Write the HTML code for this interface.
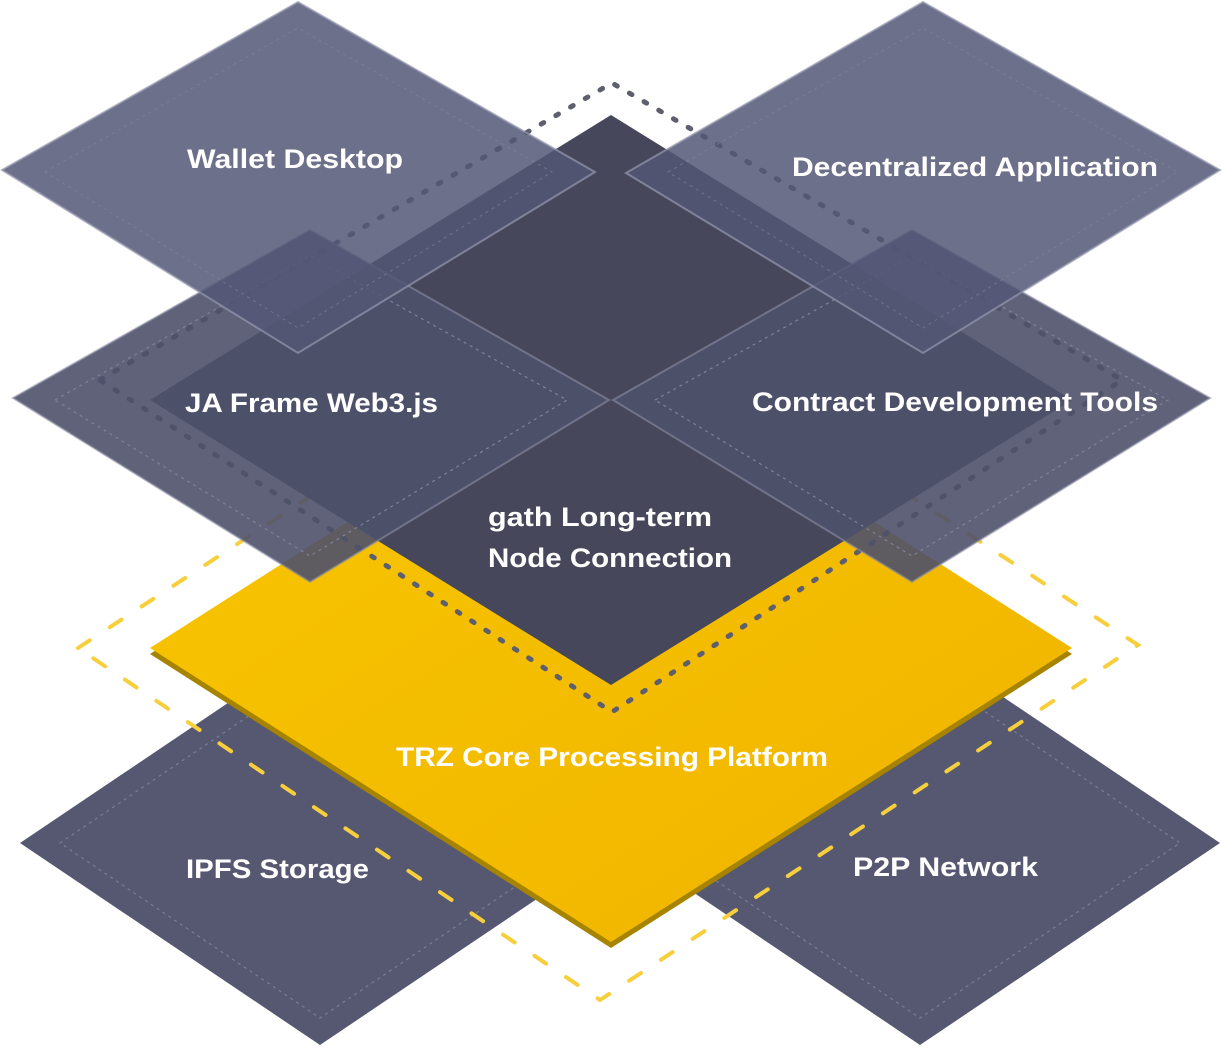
<!DOCTYPE html>
<html><head><meta charset="utf-8"><style>
html,body{margin:0;padding:0;background:#fff;}
svg{display:block;}
text{font-family:"Liberation Sans",sans-serif;font-weight:bold;fill:#fff;font-size:27px;}
</style></head><body>
<svg width="1222" height="1048" viewBox="0 0 1222 1048" xmlns="http://www.w3.org/2000/svg">
<defs>
<linearGradient id="yg" x1="0" y1="0" x2="1" y2="1">
<stop offset="0" stop-color="#f8c700"/><stop offset="1" stop-color="#f0b300"/>
</linearGradient>
</defs>
<polygon points="20,843 320,641 620,843 320,1045" fill="#555870"/>
<polygon points="60,843 320,668 580,843 320,1018" fill="none" stroke="#7a7d95" stroke-width="1.2" stroke-dasharray="3,4"/>
<polygon points="620,843 920,641 1220,843 920,1045" fill="#555870"/>
<polygon points="660,843 920,668 1180,843 920,1018" fill="none" stroke="#7a7d95" stroke-width="1.2" stroke-dasharray="3,4"/>
<polygon points="78,648 611,300 1138,645 600,1000" fill="none" stroke="#f7cf3c" stroke-width="4" stroke-dasharray="14,24" stroke-linecap="round"/>
<polygon points="150,654 611,360 1072,654 611,948" fill="#a68300"/>
<polygon points="150,648 611,354 1072,648 611,942" fill="url(#yg)"/>
<polygon points="150,400 611,115 1072,400 611,685" fill="#46475a"/>
<polygon points="100,380 612,83 1122,380 612,712" fill="none" stroke="#5d5e6e" stroke-width="5" stroke-dasharray="3,14" stroke-linecap="round"/>
<polygon points="13,398 310,230 609,400 310,582" fill="rgba(78,81,106,0.9)" stroke="rgba(140,142,165,0.6)" stroke-width="2"/>
<polygon points="55,400 310,256 567,400 310,556" fill="none" stroke="#7f8299" stroke-width="1.2" stroke-dasharray="3,4"/>
<polygon points="613,400 912,230 1210,398 912,582" fill="rgba(78,81,106,0.9)" stroke="rgba(140,142,165,0.6)" stroke-width="2"/>
<polygon points="655,400 912,256 1168,400 912,556" fill="none" stroke="#7f8299" stroke-width="1.2" stroke-dasharray="3,4"/>
<polygon points="2,170 298,2 595,172 298,353" fill="rgba(84,87,117,0.85)" stroke="rgba(150,152,175,0.7)" stroke-width="2"/>
<polygon points="45,172 298,28 552,172 298,328" fill="none" stroke="#858799" stroke-width="1" stroke-dasharray="3,4" opacity="0.6"/>
<polygon points="626,173 923,2 1220,170 923,353" fill="rgba(84,87,117,0.85)" stroke="rgba(150,152,175,0.7)" stroke-width="2"/>
<polygon points="668,172 923,28 1178,172 923,328" fill="none" stroke="#858799" stroke-width="1" stroke-dasharray="3,4" opacity="0.6"/>
<text x="187" y="168" textLength="216" lengthAdjust="spacingAndGlyphs">Wallet Desktop</text>
<text x="792" y="176" textLength="366" lengthAdjust="spacingAndGlyphs">Decentralized Application</text>
<text x="185" y="412" textLength="253" lengthAdjust="spacingAndGlyphs">JA Frame Web3.js</text>
<text x="752" y="411" textLength="406" lengthAdjust="spacingAndGlyphs">Contract Development Tools</text>
<text x="488" y="526" textLength="224" lengthAdjust="spacingAndGlyphs">gath Long-term</text>
<text x="488" y="567" textLength="244" lengthAdjust="spacingAndGlyphs">Node Connection</text>
<text x="396" y="766" textLength="432" lengthAdjust="spacingAndGlyphs">TRZ Core Processing Platform</text>
<text x="186" y="878" textLength="183" lengthAdjust="spacingAndGlyphs">IPFS Storage</text>
<text x="853" y="876" textLength="185" lengthAdjust="spacingAndGlyphs">P2P Network</text>
</svg>
</body></html>
